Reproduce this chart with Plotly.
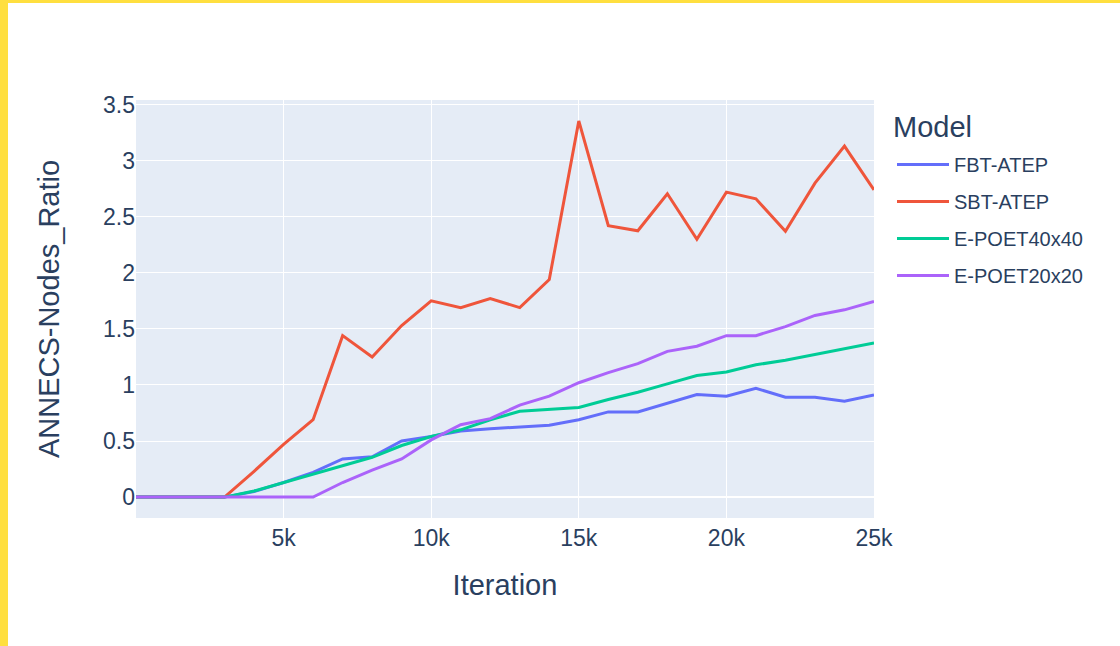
import plotly.graph_objects as go

# Iterations (x axis) and ANNECS-Nodes ratio per model
iterations = [i * 1000 for i in range(26)]

fbt_atep = [0, 0, 0, 0, 0.05, 0.13, 0.22, 0.34, 0.36, 0.50, 0.54, 0.59, 0.61, 0.625, 0.64,
            0.69, 0.76, 0.76, 0.84, 0.915, 0.90, 0.97, 0.89, 0.89, 0.855, 0.91]
sbt_atep = [0, 0, 0, 0, 0.23, 0.47, 0.69, 1.44, 1.25, 1.53, 1.75, 1.69, 1.77, 1.69, 1.94,
            3.355, 2.42, 2.375, 2.705, 2.30, 2.72, 2.66, 2.37, 2.80, 3.13, 2.74]
epoet_40 = [0, 0, 0, 0, 0.055, 0.13, 0.21, 0.28, 0.355, 0.46, 0.54, 0.60, 0.69, 0.765, 0.785,
            0.80, 0.87, 0.935, 1.01, 1.085, 1.115, 1.18, 1.22, 1.27, 1.32, 1.375]
epoet_20 = [0, 0, 0, 0, 0, 0, 0, 0.13, 0.24, 0.34, 0.51, 0.645, 0.70, 0.82, 0.90,
            1.02, 1.11, 1.19, 1.30, 1.345, 1.44, 1.44, 1.52, 1.62, 1.67, 1.745]

series = [
    ("FBT-ATEP", fbt_atep, "#636EFA"),
    ("SBT-ATEP", sbt_atep, "#EF553B"),
    ("E-POET40x40", epoet_40, "#00CC96"),
    ("E-POET20x20", epoet_20, "#AB63FA"),
]

x_tick_vals = [5000, 10000, 15000, 20000, 25000]
x_tick_text = ["5k", "10k", "15k", "20k", "25k"]
legend_heading = "Model"

W, H = 1120, 646
L, R, T, B = 136, 246, 100, 128
PW, PH = W - L - R, H - T - B

fig = go.Figure()
for name, vals, color in series:
    # one legend group per trace so tracegroupgap spaces the entries out
    fig.add_trace(go.Scatter(x=iterations, y=vals, mode="lines", name=name,
                             legendgroup=name,
                             line=dict(color=color, width=3)))


def px_x(p):
    return (p - L) / PW


def px_y(p):
    return (H - B - p) / PH


# yellow frame strips along the left and top edges of the page
frame = "#FFDF3F"
shapes = [
    dict(type="rect", xref="paper", yref="paper", x0=px_x(0), x1=px_x(8),
         y0=px_y(H), y1=px_y(0), fillcolor=frame, line=dict(width=0), layer="above"),
    dict(type="rect", xref="paper", yref="paper", x0=px_x(0), x1=px_x(W),
         y0=px_y(3), y1=px_y(0), fillcolor=frame, line=dict(width=0), layer="above"),
]

fig.update_layout(
    template="plotly",
    width=W, height=H,
    margin=dict(l=L, r=R, t=T, b=B, autoexpand=False),
    font=dict(family="Arial, Liberation Sans, sans-serif", size=23, color="#2a3f5f"),
    paper_bgcolor="white",
    plot_bgcolor="#E5ECF6",
    legend=dict(font=dict(size=20), x=px_x(892), y=px_y(145), yanchor="top",
                tracegroupgap=8, itemwidth=52),
    annotations=[dict(text=legend_heading, xref="paper", yref="paper",
                      x=px_x(891), y=px_y(127), xanchor="left", yanchor="middle",
                      showarrow=False, font=dict(size=29))],
    shapes=shapes,
)
fig.update_xaxes(title=dict(text="Iteration", font=dict(size=29), standoff=24),
                 tickvals=x_tick_vals, ticktext=x_tick_text, ticklabelstandoff=4,
                 gridcolor="white", zeroline=False, showline=False)
fig.update_yaxes(title=dict(text="ANNECS-Nodes_Ratio", font=dict(size=29), standoff=34),
                 gridcolor="white", zerolinecolor="white", zerolinewidth=2)

fig.write_html("out.html")
